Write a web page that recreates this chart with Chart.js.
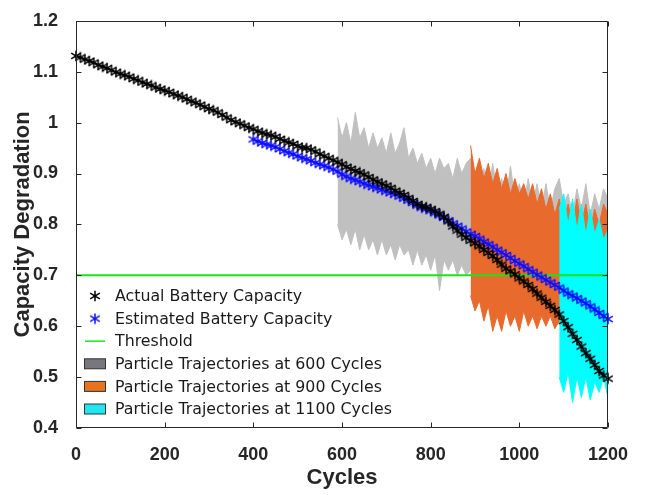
<!DOCTYPE html>
<html>
<head>
<meta charset="utf-8">
<title>Capacity Degradation</title>
<script src="https://cdn.jsdelivr.net/npm/chart.js@4.4.1/dist/chart.umd.min.js"></script>
<style>
  html, body { margin: 0; padding: 0; background: #fff; }
  #chart { display: block; }
</style>
</head>
<body>
<canvas id="chart" width="648" height="495"></canvas>
<script>
// cycle grid the curves were sampled on
const cycles = [
  0, 10, 20, 30, 40, 50, 60, 70, 80, 90, 100, 110, 120, 130, 140, 150, 160, 170, 180, 190,
  200, 210, 220, 230, 240, 250, 260, 270, 280, 290, 300, 310, 320, 330, 340, 350, 360, 370, 380, 390,
  400, 410, 420, 430, 440, 450, 460, 470, 480, 490, 500, 510, 520, 530, 540, 550, 560, 570, 580, 590,
  600, 610, 620, 630, 640, 650, 660, 670, 680, 690, 700, 710, 720, 730, 740, 750, 760, 770, 780, 790,
  800, 810, 820, 830, 840, 850, 860, 870, 880, 890, 900, 910, 920, 930, 940, 950, 960, 970, 980, 990,
  1000, 1010, 1020, 1030, 1040, 1050, 1060, 1070, 1080, 1090, 1100, 1110, 1120, 1130, 1140, 1150, 1160, 1170, 1180, 1190,
  1200,
];

// actual capacity, 0..1200
const actualCapacity = [
  1.131, 1.128, 1.124, 1.121, 1.118, 1.113, 1.110, 1.107, 1.103, 1.099,
  1.096, 1.093, 1.090, 1.086, 1.083, 1.079, 1.076, 1.073, 1.069, 1.066,
  1.063, 1.060, 1.056, 1.053, 1.050, 1.046, 1.042, 1.039, 1.035, 1.031,
  1.027, 1.024, 1.020, 1.015, 1.010, 1.005, 1.001, 0.998, 0.994, 0.990,
  0.987, 0.983, 0.980, 0.977, 0.975, 0.972, 0.968, 0.964, 0.961, 0.958,
  0.954, 0.951, 0.950, 0.947, 0.943, 0.938, 0.934, 0.930, 0.926, 0.922,
  0.918, 0.913, 0.909, 0.905, 0.902, 0.898, 0.893, 0.888, 0.884, 0.880,
  0.876, 0.872, 0.866, 0.862, 0.858, 0.852, 0.846, 0.840, 0.836, 0.834,
  0.830, 0.826, 0.821, 0.815, 0.806, 0.796, 0.788, 0.780, 0.774, 0.768,
  0.763, 0.757, 0.750, 0.744, 0.738, 0.730, 0.721, 0.713, 0.708, 0.702,
  0.694, 0.688, 0.681, 0.673, 0.664, 0.656, 0.648, 0.640, 0.632, 0.623,
  0.610, 0.598, 0.585, 0.573, 0.560, 0.547, 0.536, 0.524, 0.512, 0.503,
  0.497,
];

// estimated capacity, 400..1200
const estimatedCapacity = [
  0.967, 0.963, 0.960, 0.957, 0.955, 0.952, 0.948, 0.944, 0.941, 0.938,
  0.934, 0.931, 0.928, 0.925, 0.921, 0.918, 0.915, 0.912, 0.908, 0.904,
  0.898, 0.894, 0.890, 0.887, 0.884, 0.880, 0.877, 0.874, 0.871, 0.868,
  0.865, 0.862, 0.859, 0.855, 0.851, 0.847, 0.842, 0.837, 0.833, 0.830,
  0.827, 0.822, 0.818, 0.813, 0.808, 0.802, 0.797, 0.792, 0.786, 0.781,
  0.777, 0.772, 0.766, 0.761, 0.756, 0.750, 0.745, 0.740, 0.734, 0.728,
  0.723, 0.718, 0.712, 0.707, 0.701, 0.696, 0.691, 0.686, 0.681, 0.676,
  0.670, 0.664, 0.660, 0.655, 0.650, 0.645, 0.639, 0.633, 0.626, 0.620,
  0.614,
];

const threshold = 0.7;

// particle trajectory envelopes (upper / lower)
// 600-cycle run, 590..1200
const grayUpper = [
  1.01, 0.97, 1.00, 0.96, 1.02, 0.97, 0.99, 0.95, 0.98, 0.95,
  0.97, 0.94, 0.98, 0.94, 0.96, 0.99, 0.93, 0.95, 0.92, 0.94,
  0.91, 0.93, 0.90, 0.93, 0.91, 0.92, 0.89, 0.93, 0.90, 0.92,
  0.93, 0.90, 0.87, 0.91, 0.86, 0.92, 0.86, 0.89, 0.85, 0.915,
  0.85, 0.88, 0.84, 0.89, 0.84, 0.88, 0.83, 0.88, 0.83, 0.87,
  0.89, 0.84, 0.86, 0.82, 0.87, 0.83, 0.88, 0.82, 0.86, 0.83,
  0.87, 0.85,
];
const grayLower = [
  0.80, 0.77, 0.79, 0.76, 0.79, 0.75, 0.78, 0.75, 0.77, 0.74,
  0.77, 0.74, 0.76, 0.73, 0.76, 0.74, 0.75, 0.72, 0.75, 0.72,
  0.74, 0.71, 0.74, 0.67, 0.73, 0.71, 0.73, 0.70, 0.72, 0.70,
  0.71, 0.70, 0.69, 0.70, 0.69, 0.69, 0.68, 0.69, 0.68, 0.68,
  0.67, 0.68, 0.67, 0.67, 0.66, 0.67, 0.66, 0.66, 0.65, 0.66,
  0.65, 0.65, 0.64, 0.65, 0.64, 0.64, 0.63, 0.64, 0.63, 0.63,
  0.62, 0.63,
];
// 900-cycle run, 890..1200
const orangeUpper = [
  0.955, 0.90, 0.93, 0.89, 0.92, 0.88, 0.91, 0.87, 0.90, 0.86,
  0.89, 0.86, 0.88, 0.85, 0.88, 0.84, 0.87, 0.83, 0.86, 0.82,
  0.85, 0.81, 0.84, 0.80, 0.85, 0.80, 0.84, 0.79, 0.83, 0.80,
  0.84, 0.82,
];
const orangeLower = [
  0.66, 0.63, 0.65, 0.61, 0.64, 0.59, 0.62, 0.59, 0.63, 0.60,
  0.62, 0.59, 0.63, 0.60, 0.62, 0.595, 0.62, 0.60, 0.62, 0.595,
  0.61, 0.60, 0.61, 0.59, 0.60, 0.59, 0.60, 0.58, 0.59, 0.58,
  0.59, 0.58,
];
// 1100-cycle run, 1090..1200
const cyanUpper = [0.83, 0.86, 0.80, 0.85, 0.79, 0.84, 0.78, 0.83, 0.78, 0.81, 0.77, 0.79];
const cyanLower = [0.50, 0.47, 0.51, 0.45, 0.50, 0.46, 0.50, 0.455, 0.49, 0.47, 0.50, 0.46];

const xTicks = [0, 200, 400, 600, 800, 1000, 1200];
const yTicks = [0.4, 0.5, 0.6, 0.7, 0.8, 0.9, 1.0, 1.1, 1.2];
const yTickLabels = ['0.4', '0.5', '0.6', '0.7', '0.8', '0.9', '1', '1.1', '1.2'];

const legendNames = [
  'Actual Battery Capacity',
  'Estimated Battery Capacity',
  'Threshold',
  'Particle Trajectories at 600 Cycles',
  'Particle Trajectories at 900 Cycles',
  'Particle Trajectories at 1100 Cycles',
];

const colors = {
  actual: '#000000',
  estimated: '#1010ff',
  threshold: '#19e619',
  gray: '#c0c0c0',
  orange: '#e86a2c',
  cyan: '#00ffff',
  axis: '#262626',
};
const legendSwatch = ['#77777d', '#e8731e', '#20e6f2'];

function pairUp(values, startCycle) {
  const start = cycles.indexOf(startCycle);
  return values.map((v, i) => ({ x: cycles[start + i], y: v }));
}

// MATLAB-ish '*' marker: vertical bar plus two slanted bars
function makeStar(color) {
  const c = document.createElement('canvas');
  c.width = 12;
  c.height = 12;
  const g = c.getContext('2d');
  g.strokeStyle = color;
  g.lineWidth = 1.5;
  g.beginPath();
  g.moveTo(6, 0.8); g.lineTo(6, 11.2);
  g.moveTo(1.2, 3.2); g.lineTo(10.8, 8.8);
  g.moveTo(1.2, 8.8); g.lineTo(10.8, 3.2);
  g.stroke();
  return c;
}
const blackStar = makeStar(colors.actual);
const blueStar = makeStar(colors.estimated);

function band(values, startCycle, color, order, fillTo) {
  return {
    data: pairUp(values, startCycle),
    borderColor: color,
    backgroundColor: color,
    borderWidth: 1,
    pointRadius: 0,
    tension: 0,
    order: order,
    fill: fillTo === undefined ? false : fillTo,
  };
}

// axes box with inward ticks
const framePlugin = {
  id: 'frame',
  afterDatasetsDraw(chart) {
    const { ctx, chartArea: a, scales } = chart;
    const l = Math.round(a.left) + 0.5, r = Math.round(a.right) - 0.5;
    const t = Math.round(a.top) + 0.5, b = Math.round(a.bottom) - 0.5;
    ctx.save();
    ctx.strokeStyle = colors.axis;
    ctx.lineWidth = 1;
    ctx.beginPath();
    ctx.rect(l, t, r - l, b - t);
    xTicks.forEach((v) => {
      const px = Math.round(scales.x.getPixelForValue(v)) + 0.5;
      ctx.moveTo(px, b); ctx.lineTo(px, b - 5);
      ctx.moveTo(px, t); ctx.lineTo(px, t + 5);
    });
    yTicks.forEach((v) => {
      const py = Math.round(scales.y.getPixelForValue(v)) + 0.5;
      ctx.moveTo(l, py); ctx.lineTo(l + 5, py);
      ctx.moveTo(r, py); ctx.lineTo(r - 5, py);
    });
    ctx.stroke();
    ctx.restore();
  },
};

// legend sits inside the plot, lower left
const legendPlugin = {
  id: 'insideLegend',
  afterDraw(chart) {
    const ctx = chart.ctx;
    const iconX = 95, textX = 115, rowY = 296, step = 22.6;
    ctx.save();
    ctx.font = '15.8px "DejaVu Sans", Verdana, sans-serif';
    ctx.textBaseline = 'middle';
    ctx.fillStyle = '#1a1a1a';
    legendNames.forEach((name, i) => {
      const y = rowY + i * step;
      if (i === 0) ctx.drawImage(blackStar, iconX - 6, y - 6);
      else if (i === 1) ctx.drawImage(blueStar, iconX - 6, y - 6);
      else if (i === 2) {
        ctx.strokeStyle = colors.threshold;
        ctx.lineWidth = 1.5;
        ctx.beginPath();
        ctx.moveTo(85, y); ctx.lineTo(105, y);
        ctx.stroke();
      } else {
        ctx.fillStyle = legendSwatch[i - 3];
        ctx.fillRect(84.5, y - 5, 21, 10);
        ctx.strokeStyle = '#333';
        ctx.lineWidth = 1;
        ctx.strokeRect(84.5, y - 5, 21, 10);
        ctx.fillStyle = '#1a1a1a';
      }
      ctx.fillText(name, textX, y + 1);
    });
    ctx.restore();
  },
};

const datasets = [
  {
    data: pairUp(actualCapacity, 0),
    borderColor: colors.actual,
    borderWidth: 1.5,
    pointStyle: blackStar,
    pointRadius: 5,
    tension: 0,
    order: 1,
    clip: false,
  },
  {
    data: pairUp(estimatedCapacity, 400),
    borderColor: colors.estimated,
    borderWidth: 1.5,
    pointStyle: blueStar,
    pointRadius: 5,
    tension: 0,
    order: 2,
    clip: false,
  },
  {
    data: [{ x: 0, y: threshold }, { x: 1200, y: threshold }],
    borderColor: colors.threshold,
    borderWidth: 2,
    pointRadius: 0,
    order: 3,
  },
  band(grayUpper, 590, colors.gray, 6, 6),
  band(orangeUpper, 890, colors.orange, 5, 7),
  band(cyanUpper, 1090, colors.cyan, 4, 8),
  band(grayLower, 590, colors.gray, 6),
  band(orangeLower, 890, colors.orange, 5),
  band(cyanLower, 1090, colors.cyan, 4),
];

new Chart(document.getElementById('chart').getContext('2d'), {
  type: 'line',
  data: { datasets },
  options: {
    responsive: false,
    animation: false,
    layout: { padding: { left: 0, right: 40, top: 13, bottom: 0 } },
    plugins: {
      legend: { display: false },
      tooltip: { enabled: false },
    },
    scales: {
      x: {
        type: 'linear',
        min: 0,
        max: 1200,
        grid: { display: false },
        border: { display: false },
        afterBuildTicks: (s) => { s.ticks = xTicks.map((v) => ({ value: v })); },
        afterFit: (s) => { s.height = 67; },
        ticks: {
          padding: 8,
          color: colors.axis,
          font: { family: '"Liberation Sans", Arial, sans-serif', size: 18, weight: 'bold' },
          maxRotation: 0,
          callback: (v) => String(v),
        },
        title: {
          display: true,
          text: 'Cycles',
          color: colors.axis,
          padding: { top: 0, bottom: 4 },
          font: { family: '"Liberation Sans", Arial, sans-serif', size: 22, weight: 'bold' },
        },
      },
      y: {
        min: 0.4,
        max: 1.2,
        grid: { display: false },
        border: { display: false },
        afterBuildTicks: (s) => { s.ticks = yTicks.map((v) => ({ value: v })); },
        afterFit: (s) => { s.width = 76; },
        ticks: {
          padding: 10,
          color: colors.axis,
          font: { family: '"Liberation Sans", Arial, sans-serif', size: 18, weight: 'bold' },
          callback: (v) => yTickLabels[yTicks.findIndex((t) => Math.abs(t - v) < 1e-6)],
        },
        title: {
          display: true,
          text: 'Capacity Degradation',
          color: colors.axis,
          padding: { top: 10, bottom: 0 },
          font: { family: '"Liberation Sans", Arial, sans-serif', size: 22, weight: 'bold' },
        },
      },
    },
  },
  plugins: [framePlugin, legendPlugin],
});
</script>
</body>
</html>
